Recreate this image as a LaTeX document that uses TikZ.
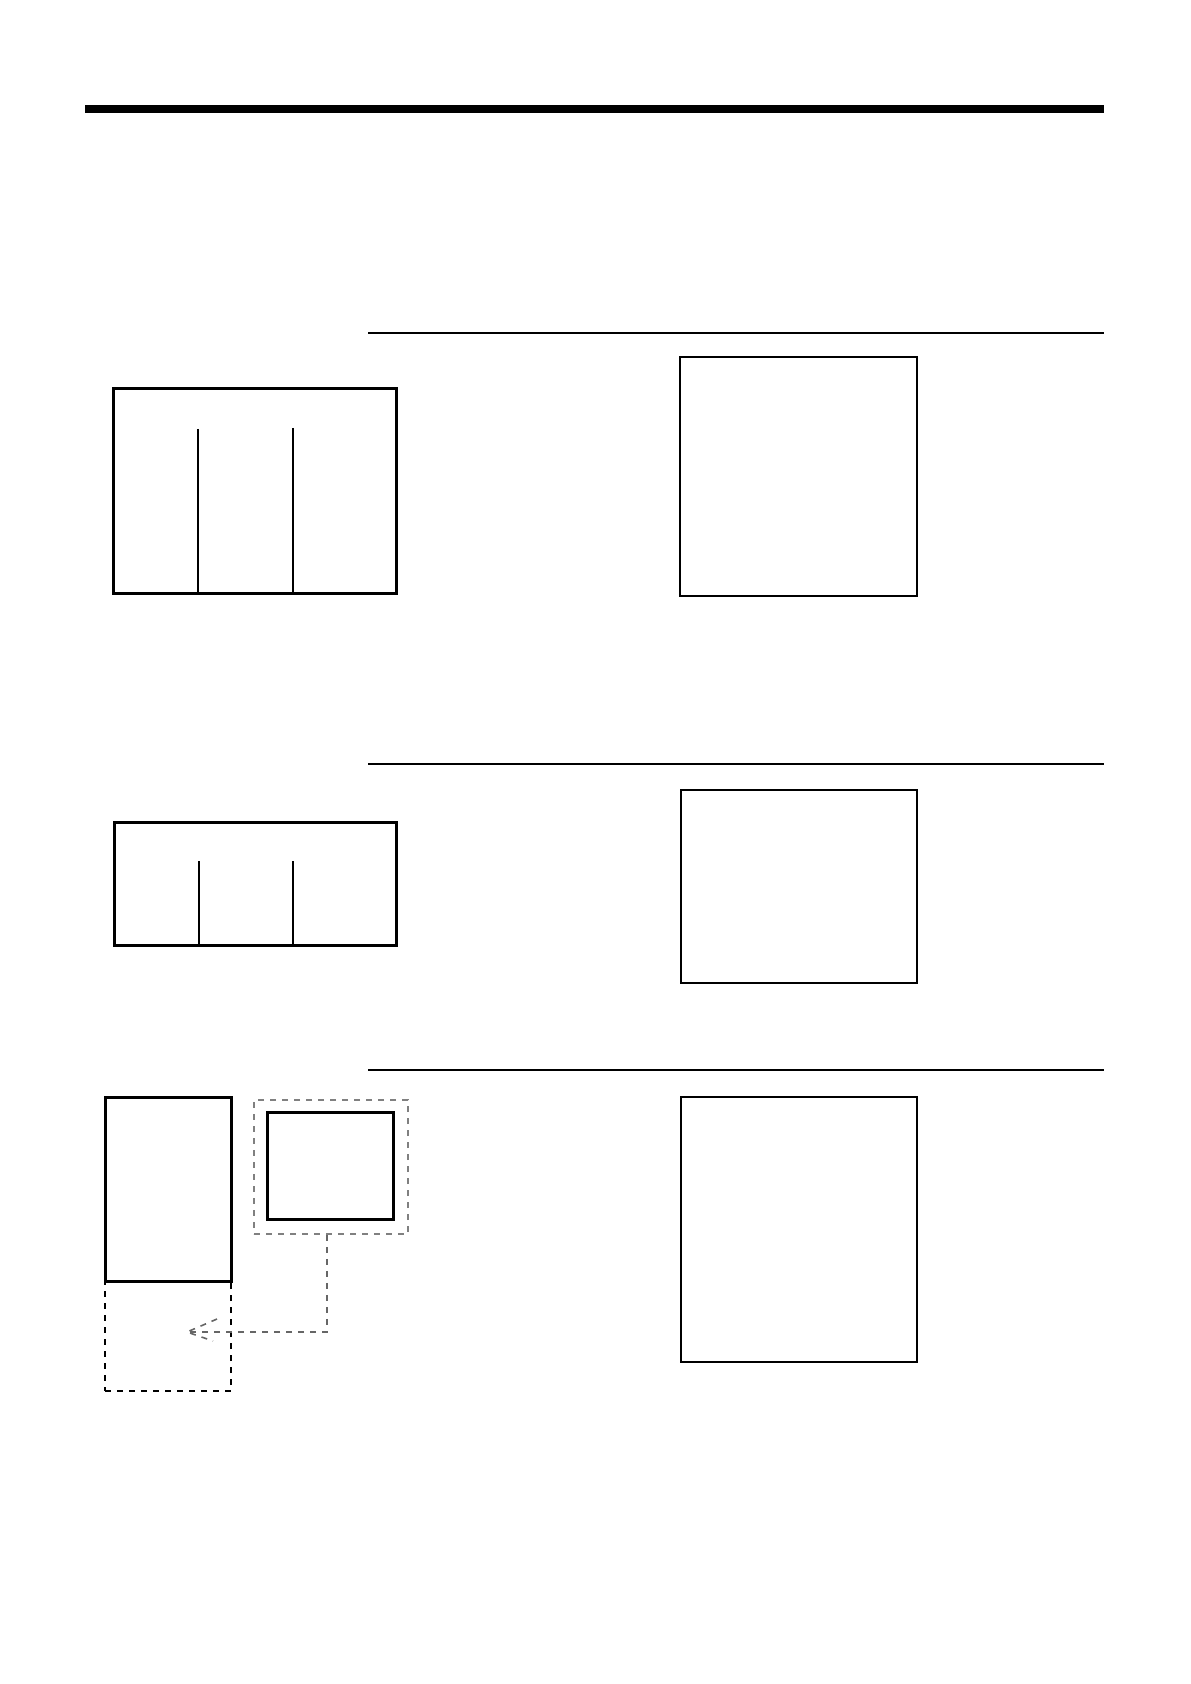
\documentclass[tikz,border=0pt]{standalone}
\usetikzlibrary{positioning}
\tikzset{
    panel/.style = {draw, line width = 1.5pt, inner sep = 0pt},
    screen/.style = {draw, line width = 0.8pt, inner sep = 0pt},
    frame/.style = {draw = gray, dashed, line width = 0.8pt, inner sep = 0pt},
    slot/.style = {draw, dashed, line width = 1.2pt, inner sep = 0pt},
    link/.style = {draw = gray!80!black, dashed, line width = 0.8pt}
}
\begin{document}
\begin{tikzpicture}[x = 0.5pt, y = -0.5pt]
    \useasboundingbox (0,0) rectangle (1190,1684);
    % header rule and section rules
    \fill (85,105) rectangle (1104,113);
    \begin{scope}[line width = 0.6pt]
        \draw (368,333) -- (1104,333);
        \draw (368,764) -- (1104,764);
        \draw (368,1070) -- (1104,1070);
    \end{scope}
    % first section
    \draw[line width = 1.5pt] (113,389) rectangle (396,593);
    \begin{scope}[line width = 1pt]
        \draw (198,429) -- (198,593);
        \draw (293,428) -- (293,592);
    \end{scope}
    \node[screen, minimum width = 118.5pt, minimum height = 119.5pt] (view1) at (798.5,476.5) {};
    % second section
    \draw[line width = 1.5pt] (114,822) rectangle (396,945);
    \begin{scope}[line width = 1pt]
        \draw (199,861) -- (199,945);
        \draw (293,861) -- (293,945);
    \end{scope}
    \node[screen, minimum width = 118pt, minimum height = 96.5pt] (view2) at (799,886.5) {};
    % third section
    \node[panel, minimum width = 63pt, minimum height = 92pt] (tall) at (168,1189) {};
    \node[slot, minimum width = 63pt, minimum height = 55pt] (space) at (168,1336) {};
    \node[frame, minimum width = 77pt, minimum height = 67pt] (outer) at (331,1167) {};
    \node[panel, minimum width = 63pt, minimum height = 53.5pt] (card) at (330,1165.5) {};
    \node[screen, minimum width = 118pt, minimum height = 132.5pt] (view3) at (799,1229.5) {};
    \coordinate (tip) at (187,1332);
    \draw[link] ([xshift = -2pt]outer.south) |- (tip);
    \draw[link] ([shift = {(30,-13)}]tip) -- (tip) -- ([shift = {(26,9)}]tip);
\end{tikzpicture}
\end{document}
